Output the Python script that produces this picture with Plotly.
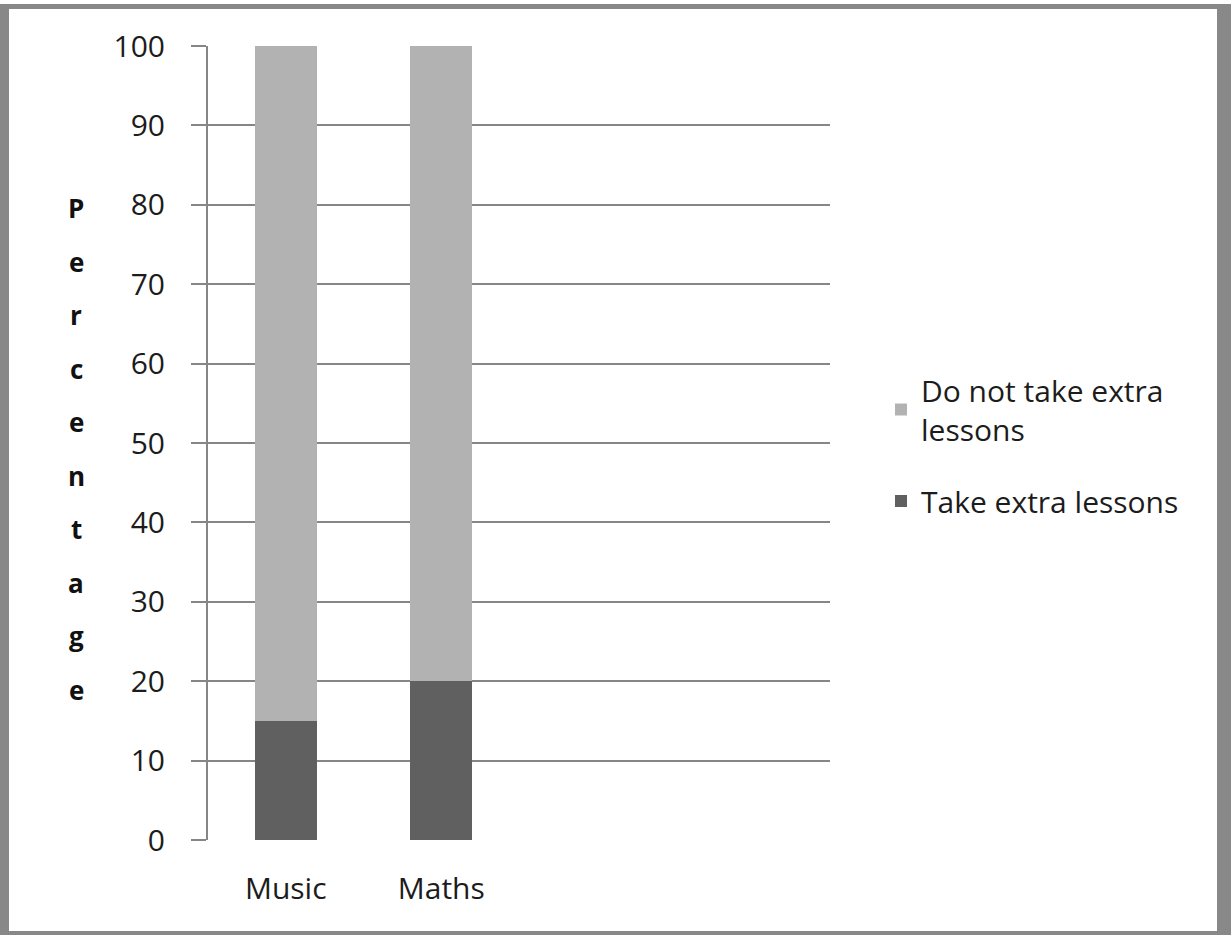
import plotly.graph_objects as go

# Data
subjects = ["Music", "Maths"]
take_extra = [15, 20]
no_extra = [85, 80]
series_names = ["Take extra lessons", "Do not take extra<br>lessons"]
series_colors = ["#606060", "#b2b2b2"]
y_ticks = [0, 10, 20, 30, 40, 50, 60, 70, 80, 90, 100]
axis_title = "Percentage"
n_slots = 4  # category slots on the x axis (two left empty)

# Canvas and plot-area geometry in pixels
W, H = 1231, 935
L, R, T, B = 208, 401, 46, 95
pw, ph = W - L - R, H - T - B


def px(x):
    return (x - L) / pw


def py(y):
    return (H - B - y) / ph


FONT = "Open Sans"
GRID = "#868686"
TEXT = "#1c1c1c"
FS = 30

xs = list(range(len(subjects)))

fig = go.Figure()
fig.add_trace(go.Bar(x=xs, y=take_extra, name=series_names[0], legendgroup="a",
                     legendrank=2,
                     marker=dict(color=series_colors[0], line=dict(width=0)),
                     width=0.4))
fig.add_trace(go.Bar(x=xs, y=no_extra, name=series_names[1], legendgroup="b",
                     legendrank=1,
                     marker=dict(color=series_colors[1], line=dict(width=0)),
                     width=0.4))

# Vertical, letter-by-letter axis title
letters = list(axis_title)
top_c, bot_c = 208, 690
step = (bot_c - top_c) / (len(letters) - 1)
annotations = []
for i, ch in enumerate(letters):
    annotations.append(dict(
        text=ch, xref="paper", yref="paper", x=px(76), y=py(top_c + i * step),
        xanchor="center", yanchor="middle", showarrow=False,
        font=dict(family=FONT, size=26, color="#111111", weight="bold")))

# Frame around the whole chart
border_color = "#888888"
shapes = []
for (x0, y0, x1, y1) in [(0, 4, 9, 935), (0, 4, 1231, 9),
                         (1217, 4, 1231, 935), (0, 931, 1231, 935)]:
    shapes.append(dict(type="rect", xref="paper", yref="paper",
                       x0=px(x0), x1=px(x1), y0=py(y1), y1=py(y0),
                       fillcolor=border_color, line=dict(width=0), layer="above"))

fig.update_layout(
    width=W, height=H,
    margin=dict(l=L, r=R, t=T, b=B, pad=0),
    paper_bgcolor="white", plot_bgcolor="white",
    barmode="stack",
    font=dict(family=FONT, size=FS, color=TEXT),
    showlegend=True,
    legend=dict(x=px(881), y=py(364), xanchor="left", yanchor="top",
                traceorder="grouped",
                font=dict(family=FONT, size=FS, color=TEXT),
                bgcolor="rgba(0,0,0,0)", tracegroupgap=30),
    annotations=annotations,
    shapes=shapes,
    xaxis=dict(range=[-0.5, n_slots - 0.5], tickvals=xs, ticktext=subjects,
               showgrid=False, zeroline=False, showline=False, ticks="",
               ticklabelstandoff=28, fixedrange=True,
               tickfont=dict(family=FONT, size=FS, color=TEXT)),
    yaxis=dict(range=[0, 100], tickvals=y_ticks, showgrid=True, gridcolor=GRID,
               gridwidth=2, zeroline=False, showline=True, linecolor=GRID,
               linewidth=2, ticks="outside", ticklen=15, tickwidth=2,
               tickcolor=GRID, ticklabelstandoff=20,
               tickfont=dict(family=FONT, size=FS, color=TEXT)),
)

fig.write_html("out.html")
